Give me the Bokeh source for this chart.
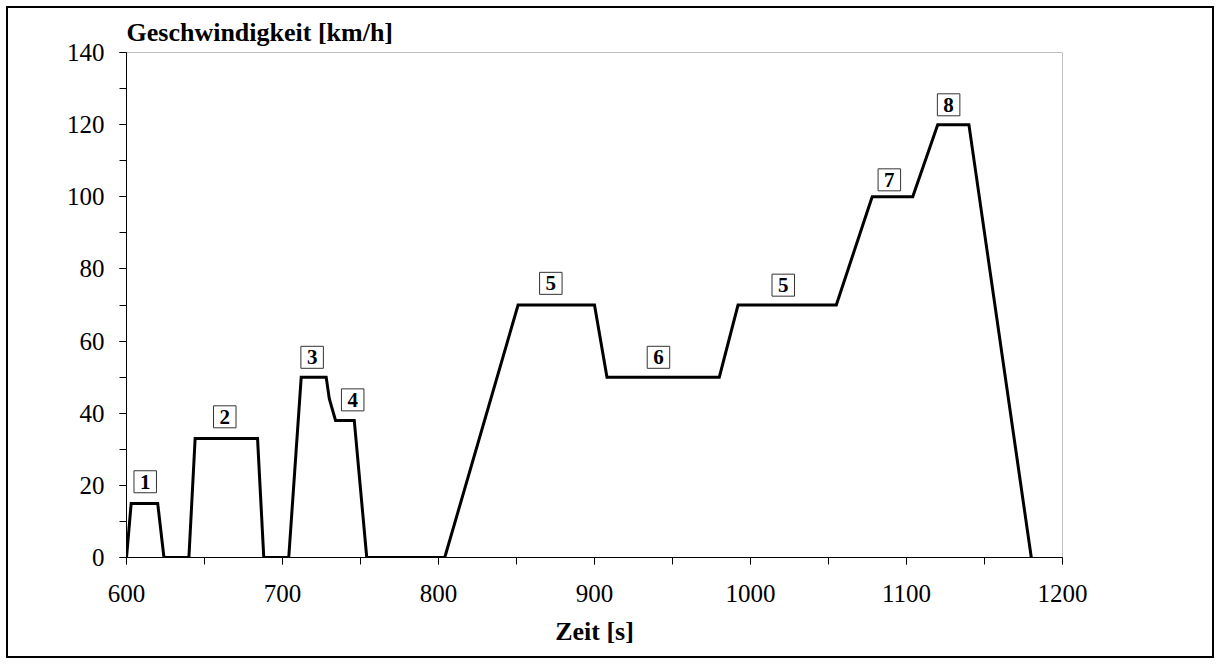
from bokeh.plotting import figure
from bokeh.models import Range1d, SingleIntervalTicker, Span, ColumnDataSource
from bokeh.core.properties import value
from bokeh.embed import file_html
from bokeh.resources import INLINE

# Data: time [s] and speed [km/h]
zeit = [600, 603, 620, 624, 640, 644, 684, 688, 704, 712, 728, 730, 734, 746, 754,
        804, 851, 900, 908, 980, 992, 1055, 1078, 1104, 1120, 1140, 1180]
geschw = [0, 15, 15, 0, 0, 33, 33, 0, 0, 50, 50, 44, 38, 38, 0,
          0, 70, 70, 50, 50, 70, 70, 100, 100, 120, 120, 0]

# Phase labels
label_text = ["1", "2", "3", "4", "5", "6", "5", "7", "8"]
label_t = [612, 663, 719, 745, 872, 941, 1021, 1089, 1127]
label_v = [21, 39, 55.5, 43.7, 76, 55.5, 75.5, 104.7, 125.5]

FONT = "Liberation Serif"

p = figure(
    output_backend="svg", toolbar_location=None,
    frame_width=936, frame_height=505,
    min_border_left=118, min_border_top=44, min_border_right=150, min_border_bottom=99,
    x_range=Range1d(600, 1200), y_range=Range1d(0, 140),
    title="Geschwindigkeit [km/h]",
)
p.styles = {"border": "2px solid black", "margin": "6px"}
p.background_fill_color = "white"
p.border_fill_color = "white"
p.outline_line_color = None
p.grid.grid_line_color = None

p.title.text_font = FONT
p.title.text_font_size = "26px"
p.title.text_font_style = "bold"
p.title.text_color = "black"
p.title.align = "left"
p.title.offset = 0
p.title.standoff = 12

p.add_layout(Span(location=140, dimension="width", line_color="#808080", line_width=1))
p.add_layout(Span(location=1200, dimension="height", line_color="#808080", line_width=1))

p.xaxis.ticker = SingleIntervalTicker(interval=100, num_minor_ticks=2)
p.yaxis.ticker = SingleIntervalTicker(interval=20, num_minor_ticks=2)
for ax in (p.xaxis, p.yaxis):
    ax.axis_line_color = "black"
    ax.axis_line_width = 1
    ax.major_tick_line_color = "black"
    ax.minor_tick_line_color = "black"
    ax.major_tick_in = 0
    ax.minor_tick_in = 0
    ax.major_tick_out = 7
    ax.minor_tick_out = 7
    ax.major_label_text_font = FONT
    ax.major_label_text_font_size = "25px"
    ax.major_label_text_color = "black"
p.yaxis.major_label_standoff = 15
p.xaxis.major_label_standoff = 20
p.xaxis.axis_label = "Zeit [s]"
p.xaxis.axis_label_text_font = FONT
p.xaxis.axis_label_text_font_size = "26px"
p.xaxis.axis_label_text_font_style = "bold"
p.xaxis.axis_label_text_color = "black"
p.xaxis.axis_label_standoff = 12

p.line(zeit, geschw, line_color="black", line_width=3, line_join="miter")

src = ColumnDataSource(dict(x=label_t, y=label_v, text=label_text))
p.text(
    x="x", y="y", text="text", source=src,
    text_font=value(FONT), text_font_size="21px", text_font_style="bold",
    text_align="center", text_baseline="middle", text_color="black",
    border_line_color="#333333", border_line_width=1,
    background_fill_color="white", padding=(6, 4),
)

open("out.html", "w").write(file_html(p, INLINE))
